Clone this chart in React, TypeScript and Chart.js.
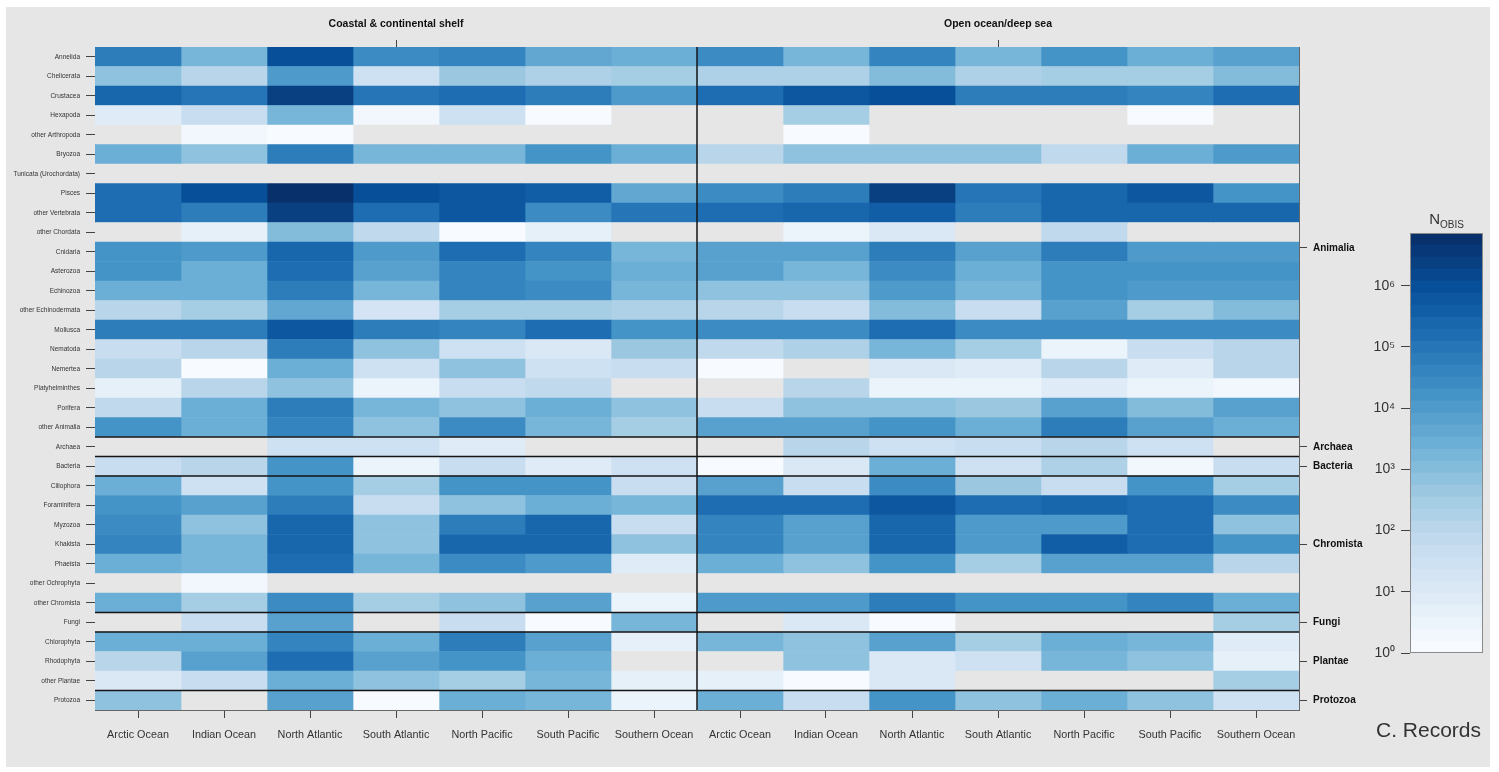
import React, { useEffect, useRef } from 'react';
import { Chart, registerables } from 'chart.js';

Chart.register(...registerables);

// ---------- categories ----------
const rowLabels = [
  'Annelida', 'Chelicerata', 'Crustacea', 'Hexapoda', 'other Arthropoda', 'Bryozoa',
  'Tunicata (Urochordata)', 'Pisces', 'other Vertebrata', 'other Chordata', 'Cnidaria',
  'Asterozoa', 'Echinozoa', 'other Echinodermata', 'Mollusca', 'Nematoda', 'Nemertea',
  'Platyhelminthes', 'Porifera', 'other Animalia', 'Archaea', 'Bacteria', 'Ciliophora',
  'Foraminifera', 'Myzozoa', 'Khakista', 'Phaeista', 'other Ochrophyta', 'other Chromista',
  'Fungi', 'Chlorophyta', 'Rhodophyta', 'other Plantae', 'Protozoa',
];
const oceanLabels = [
  'Arctic Ocean', 'Indian Ocean', 'North Atlantic', 'South Atlantic',
  'North Pacific', 'South Pacific', 'Southern Ocean',
];
const habitatLabels = ['Coastal & continental shelf', 'Open ocean/deep sea'];
const kingdomLabels = ['Animalia', 'Archaea', 'Bacteria', 'Chromista', 'Fungi', 'Plantae', 'Protozoa'];
const kingdomTickRows = [9.8, 20, 21, 25, 29, 31, 33];
const kingdomBreaksAfterRow = [19, 20, 21, 28, 29, 32];
const colorbarExponents = [0, 1, 2, 3, 4, 5, 6];
const colorbarMaxLog = 6.86;
const colorbarBands = 35;

// ---------- values: log10(number of OBIS records); null = no records ----------
const coastalArctic = [4.75, 2.75, 5.35, 0.9, null, 3.45, null, 5.15, 5.15, null, 4.2, 4.25, 3.4, 2.1, 4.75, 1.65, 2.1, 0.65, 1.85, 4.25, null, 1.7, 3.45, 4.25, 4.45, 4.6, 3.45, null, 3.45, null, 3.45, 2.1, 1.15, 2.85];
const coastalIndian = [3.2, 2.1, 4.95, 1.7, 0.2, 2.85, null, 6.0, 4.75, 0.65, 4.1, 3.45, 3.4, 2.5, 4.75, 2.1, 0.05, 2.1, 3.45, 3.45, null, 2.1, 1.4, 3.8, 2.85, 3.2, 3.2, 0.3, 2.5, 1.7, 3.45, 3.8, 1.7, null];
const coastalNorthAtlantic = [6.0, 4.1, 6.4, 3.2, 0.05, 4.75, null, 6.86, 6.35, 3.0, 5.35, 5.1, 4.85, 3.7, 5.8, 4.75, 3.45, 2.75, 4.75, 4.6, 1.4, 4.25, 4.25, 4.75, 5.35, 5.35, 5.1, null, 4.45, 3.8, 4.6, 5.1, 3.45, 3.8];
const coastalSouthAtlantic = [4.45, 1.4, 4.95, 0.3, null, 3.2, null, 6.0, 5.25, 1.85, 4.1, 3.8, 3.2, 1.35, 4.75, 2.75, 1.4, 0.4, 3.2, 2.85, 1.4, 0.4, 2.5, 1.7, 2.75, 2.75, 3.2, null, 2.5, null, 3.45, 3.8, 2.85, 0.05];
const coastalNorthPacific = [4.6, 2.55, 5.15, 1.4, null, 3.2, null, 5.85, 5.8, 0.05, 5.25, 4.55, 4.55, 2.5, 4.6, 1.4, 2.75, 1.7, 2.85, 4.45, 0.9, 1.7, 4.25, 2.8, 4.75, 5.35, 4.45, null, 2.75, 1.7, 4.75, 4.25, 2.5, 3.45];
const coastalSouthPacific = [3.7, 2.35, 4.75, 0.05, null, 4.25, null, 5.6, 4.45, 0.65, 4.6, 4.25, 4.45, 2.5, 5.15, 1.15, 1.4, 1.85, 3.45, 3.2, null, 0.95, 4.25, 3.45, 5.35, 5.35, 4.1, null, 3.8, 0.05, 3.8, 3.45, 3.2, 3.2];
const coastalSouthern = [3.45, 2.5, 4.1, null, null, 3.45, null, 3.55, 4.95, null, 3.2, 3.45, 3.3, 2.35, 4.25, 2.55, 1.7, null, 2.85, 2.5, null, 1.4, 1.7, 3.2, 1.7, 2.75, 0.9, null, 0.4, 3.2, 0.65, null, 0.65, 0.4];
const openArctic = [4.45, 2.35, 5.15, null, null, 2.1, null, 4.45, 5.15, null, 3.8, 3.8, 2.85, 2.1, 4.45, 1.85, 0.05, null, 1.7, 3.8, null, 0.05, 3.8, 5.15, 4.6, 4.6, 3.45, null, 4.1, null, 3.2, null, 0.65, 3.45];
const openIndian = [3.2, 2.35, 5.8, 2.5, 0.05, 2.75, null, 4.75, 5.35, 0.4, 3.8, 3.2, 2.85, 1.7, 4.45, 2.35, null, 2.1, 2.85, 3.8, 2.1, 1.15, 1.7, 5.25, 3.8, 3.8, 2.85, null, 4.1, 1.15, 2.75, 2.85, 0.05, 1.7];
const openNorthAtlantic = [4.6, 3.0, 6.05, null, null, 2.85, null, 6.4, 5.6, 1.0, 4.75, 4.45, 4.1, 3.0, 5.1, 3.2, 1.15, 0.4, 2.85, 4.25, 1.4, 3.45, 4.45, 5.8, 5.45, 5.35, 4.25, null, 4.75, 0.05, 3.8, 1.15, 1.15, 4.25];
const openSouthAtlantic = [3.2, 2.35, 4.75, null, null, 2.75, null, 4.95, 4.75, null, 3.8, 3.45, 3.2, 1.7, 4.45, 2.5, 0.95, 0.4, 2.55, 3.45, 1.7, 1.4, 2.6, 5.25, 4.1, 4.1, 2.5, null, 4.25, null, 2.5, 1.4, null, 2.85];
const openNorthPacific = [4.25, 2.5, 4.75, null, null, 1.85, null, 5.45, 5.45, 1.85, 4.75, 4.25, 4.2, 3.8, 4.45, 0.4, 2.1, 0.8, 3.8, 4.85, 2.1, 2.35, 1.7, 5.35, 4.1, 5.6, 3.8, null, 4.25, null, 3.45, 3.2, null, 3.45];
const openSouthPacific = [3.45, 2.5, 4.6, 0.05, null, 3.45, null, 5.8, 5.45, null, 4.1, 4.25, 3.95, 2.4, 4.5, 1.65, 0.95, 0.4, 3.05, 3.8, 1.4, 0.2, 4.25, 5.25, 5.25, 5.25, 3.8, null, 4.6, null, 3.2, 2.85, null, 2.85];
const openSouthern = [3.8, 3.0, 5.15, null, null, 4.1, null, 4.25, 5.45, null, 4.1, 4.25, 3.95, 3.0, 4.5, 2.1, 2.1, 0.3, 3.8, 3.45, null, 1.7, 2.5, 4.45, 2.75, 4.25, 2.1, null, 3.45, 2.5, 0.9, 0.65, 2.5, 1.4];

const columns: (number | null)[][] = [
  coastalArctic, coastalIndian, coastalNorthAtlantic, coastalSouthAtlantic,
  coastalNorthPacific, coastalSouthPacific, coastalSouthern,
  openArctic, openIndian, openNorthAtlantic, openSouthAtlantic,
  openNorthPacific, openSouthPacific, openSouthern,
];
const columnLabels = [...oceanLabels, ...oceanLabels];

// ---------- colour map (Blues) ----------
const BLUES = ['#f7fbff', '#deebf7', '#c6dbef', '#9ecae1', '#6baed6', '#4292c6', '#2171b5', '#08519c', '#08306b'];
const NA_COLOR = '#e6e6e6';
const FONT = "'Liberation Sans', Arial, Helvetica, sans-serif";

function hexToRgb(h: string) {
  const n = parseInt(h.slice(1), 16);
  return [(n >> 16) & 255, (n >> 8) & 255, n & 255];
}
const BLUES_RGB = BLUES.map(hexToRgb);
function blues(t: number) {
  const tt = Math.max(0, Math.min(1, t));
  const s = tt * (BLUES_RGB.length - 1);
  const i = Math.min(Math.floor(s), BLUES_RGB.length - 2);
  const f = s - i;
  const a = BLUES_RGB[i];
  const b = BLUES_RGB[i + 1];
  const c = a.map((v, k) => Math.round(v + (b[k] - v) * f));
  return `rgb(${c[0]},${c[1]},${c[2]})`;
}
function bandOf(v: number) {
  return Math.min(colorbarBands - 1, Math.max(0, Math.floor((v / colorbarMaxLog) * colorbarBands)));
}
function bandColor(k: number) {
  return blues(k / (colorbarBands - 1));
}
const SUP: Record<string, string> = { '0': '\u2070', '1': '\u00b9', '2': '\u00b2', '3': '\u00b3', '4': '\u2074', '5': '\u2075', '6': '\u2076', '7': '\u2077', '8': '\u2078', '9': '\u2079' };
function sup(n: number) {
  return String(n).split('').map((d) => SUP[d]).join('');
}

const separatorPlugin = {
  id: 'separators',
  afterDatasetsDraw(chart: any) {
    const { ctx, chartArea, scales } = chart;
    const y = scales.y;
    const x = scales.x;
    ctx.save();
    ctx.strokeStyle = '#151515';
    ctx.lineWidth = 1.5;
    kingdomBreaksAfterRow.forEach((r) => {
      const py = (y.getPixelForValue(r) + y.getPixelForValue(r + 1)) / 2;
      ctx.beginPath();
      ctx.moveTo(chartArea.left, py);
      ctx.lineTo(chartArea.right, py);
      ctx.stroke();
    });
    const px = x.getPixelForValue(oceanLabels.length);
    ctx.beginPath();
    ctx.moveTo(px, chartArea.top);
    ctx.lineTo(px, chartArea.bottom);
    ctx.stroke();
    ctx.restore();
  },
};

const framePlugin = {
  id: 'frame',
  afterDatasetsDraw(chart: any) {
    const { ctx, chartArea } = chart;
    ctx.save();
    ctx.strokeStyle = '#8a8a8a';
    ctx.lineWidth = 1;
    ctx.strokeRect(chartArea.left + 0.5, chartArea.top + 0.5, chartArea.right - chartArea.left - 1, chartArea.bottom - chartArea.top - 1);
    ctx.restore();
  },
};

export default function App() {
  const mainRef = useRef<HTMLCanvasElement>(null);
  const barRef = useRef<HTMLCanvasElement>(null);

  useEffect(() => {
    if (!mainRef.current || !barRef.current) return;

    const main = new Chart(mainRef.current, {
      type: 'bar',
      data: {
        labels: rowLabels,
        datasets: columns.map((col, c) => ({
          label: columnLabels[c],
          data: col.map(() => [c, c + 1]),
          backgroundColor: col.map((v) => (v == null ? NA_COLOR : bandColor(bandOf(v)))),
          xAxisID: 'x',
          yAxisID: 'y',
          grouped: false,
          barPercentage: 1,
          categoryPercentage: 1,
          borderWidth: 0,
        })) as any,
      },
      options: {
        indexAxis: 'y',
        responsive: false,
        animation: false,
        events: [],
        layout: { padding: 0 },
        plugins: { legend: { display: false }, tooltip: { enabled: false }, title: { display: false } },
        scales: {
          x: {
            type: 'linear',
            position: 'bottom',
            min: 0,
            max: columnLabels.length,
            bounds: 'data',
            offset: false,
            afterBuildTicks: (s: any) => { s.ticks = columnLabels.map((_, i) => ({ value: i + 0.5 })); },
            afterFit: (s: any) => { s.height = 62; },
            ticks: {
              autoSkip: false, maxRotation: 0, padding: 11, color: '#333',
              font: { family: FONT, size: 10.8 },
              callback: (_v: any, i: number) => columnLabels[i],
            },
            grid: { display: true, offset: false, drawOnChartArea: false, drawTicks: true, tickLength: 8, tickColor: '#444', tickWidth: 1 },
            border: { display: true, color: '#666', width: 1 },
          },
          x2: {
            type: 'linear',
            position: 'top',
            min: 0,
            max: columnLabels.length,
            bounds: 'data',
            offset: false,
            afterBuildTicks: (s: any) => { s.ticks = habitatLabels.map((_, i) => ({ value: oceanLabels.length * (i + 0.5) })); },
            afterFit: (s: any) => { s.height = 47; },
            ticks: {
              autoSkip: false, maxRotation: 0, padding: 10, color: '#111',
              font: { family: FONT, size: 10.5, weight: 'bold' },
              callback: (_v: any, i: number) => habitatLabels[i],
            },
            grid: { display: true, offset: false, drawOnChartArea: false, drawTicks: true, tickLength: 7, tickColor: '#444', tickWidth: 1 },
            border: { display: true, color: '#666', width: 1 },
          },
          y: {
            type: 'category',
            position: 'left',
            offset: true,
            afterFit: (s: any) => { s.width = 95; },
            ticks: { autoSkip: false, padding: 6, color: '#333', font: { family: FONT, size: 6.5 } },
            grid: { display: true, offset: false, drawOnChartArea: false, drawTicks: true, tickLength: 9, tickColor: '#444', tickWidth: 1 },
            border: { display: true, color: '#666', width: 1 },
          },
          y2: {
            type: 'linear',
            position: 'right',
            min: -0.5,
            max: rowLabels.length - 0.5,
            reverse: true,
            bounds: 'data',
            offset: false,
            beginAtZero: false,
            grace: 0,
            afterBuildTicks: (s: any) => { s.ticks = kingdomTickRows.map((v) => ({ value: v })); },
            afterFit: (s: any) => { s.width = 200; },
            ticks: {
              autoSkip: false, padding: 6, color: '#111',
              font: { family: FONT, size: 10, weight: 'bold' },
              callback: (_v: any, i: number) => kingdomLabels[i],
            },
            grid: { display: true, offset: false, drawOnChartArea: false, drawTicks: true, tickLength: 8, tickColor: '#444', tickWidth: 1 },
            border: { display: true, color: '#666', width: 1 },
          },
        },
      } as any,
      plugins: [separatorPlugin],
    });

    const bands = Array.from({ length: colorbarBands }, (_, k) => k);
    const bar = new Chart(barRef.current, {
      type: 'bar',
      data: {
        labels: [''],
        datasets: bands.map((k) => ({
          data: [[Math.pow(10, (k * colorbarMaxLog) / colorbarBands), Math.pow(10, ((k + 1) * colorbarMaxLog) / colorbarBands)]],
          backgroundColor: bandColor(k),
          grouped: false,
          barPercentage: 1,
          categoryPercentage: 1,
          borderWidth: 0,
        })) as any,
      },
      options: {
        responsive: false,
        animation: false,
        events: [],
        layout: { padding: { top: 33, bottom: 27, right: 12, left: 0 } },
        plugins: { legend: { display: false }, tooltip: { enabled: false } },
        scales: {
          x: { display: false, offset: true },
          y: {
            type: 'logarithmic',
            min: 1,
            max: Math.pow(10, colorbarMaxLog),
            afterBuildTicks: (s: any) => { s.ticks = colorbarExponents.map((e) => ({ value: Math.pow(10, e) })); },
            afterFit: (s: any) => { s.width = 80; },
            ticks: {
              autoSkip: false, padding: 6, color: '#333',
              font: { family: FONT, size: 14 },
              callback: (_v: any, i: number) => '10' + sup(colorbarExponents[i]),
            },
            grid: { display: true, offset: false, drawOnChartArea: false, drawTicks: true, tickLength: 9, tickColor: '#444', tickWidth: 1 },
            border: { display: false },
          },
        },
      } as any,
      plugins: [framePlugin],
    });

    return () => {
      main.destroy();
      bar.destroy();
    };
  }, []);

  return (
    <div style={{ position: 'absolute', left: 0, top: 0, width: 1499, height: 772, background: '#ffffff', overflow: 'hidden', fontFamily: FONT }}>
      <div style={{ position: 'absolute', left: 6, top: 7, width: 1484, height: 760, background: '#e6e6e6' }} />
      <canvas ref={mainRef} width={1499} height={772} style={{ position: 'absolute', left: 0, top: 0, width: 1499, height: 772 }} />
      <canvas ref={barRef} width={165} height={480} style={{ position: 'absolute', left: 1330, top: 200, width: 165, height: 480 }} />
      <div style={{ position: 'absolute', left: 1400, top: 210, width: 93, textAlign: 'center', color: '#333', fontSize: 15, lineHeight: '18px' }}>
        N<sub style={{ fontSize: 10, verticalAlign: 'sub' }}>OBIS</sub>
      </div>
      <div style={{ position: 'absolute', left: 1376, top: 718, color: '#333', fontSize: 21, lineHeight: '24px', whiteSpace: 'nowrap' }}>
        C. Records
      </div>
    </div>
  );
}
